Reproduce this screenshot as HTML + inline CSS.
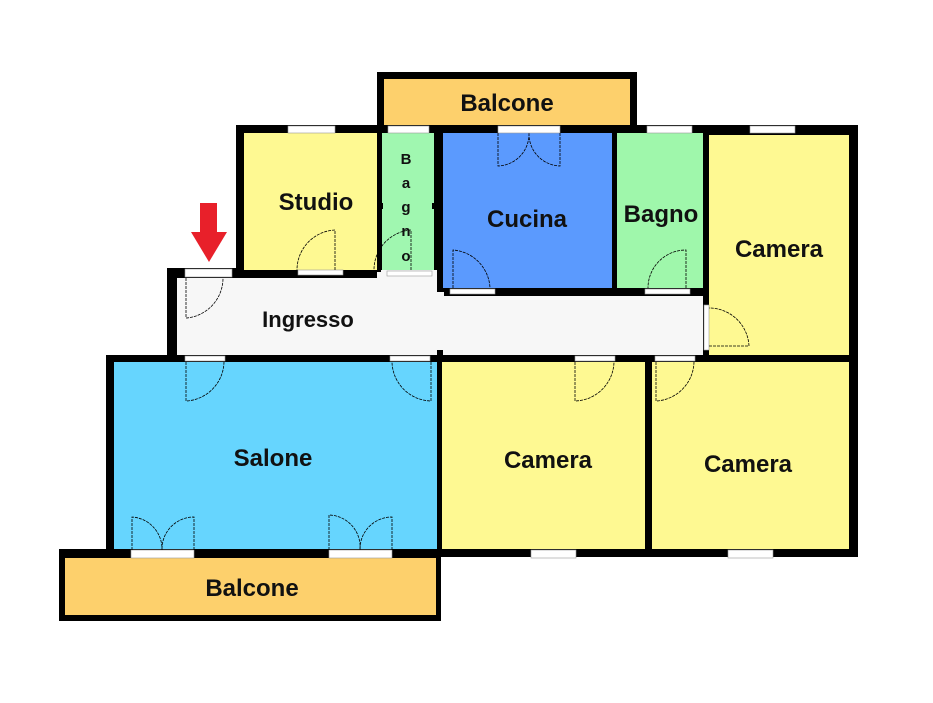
<!DOCTYPE html>
<html><head><meta charset="utf-8"><style>html,body{margin:0;padding:0;background:#fff}svg{display:block}text{font-family:"Liberation Sans","DejaVu Sans",sans-serif;font-weight:bold;fill:#111}</style></head><body>
<svg width="933" height="703" viewBox="0 0 933 703" xmlns="http://www.w3.org/2000/svg">
<rect width="933" height="703" fill="#fff"/>
<rect x="377" y="72" width="260" height="60" fill="#000"/>
<rect x="384" y="79" width="246" height="48" fill="#fdd06c"/>
<rect x="236" y="125" width="622" height="153" fill="#000"/>
<rect x="167" y="268" width="691" height="100" fill="#000"/>
<rect x="106" y="355" width="752" height="202" fill="#000"/>
<rect x="59" y="549" width="382" height="72" fill="#000"/>
<rect x="65" y="558" width="371" height="57" fill="#fdd06c"/>
<rect x="244" y="133" width="133" height="137" fill="#fef992"/>
<rect x="382" y="133" width="52" height="139" fill="#a0f7b0"/>
<rect x="443" y="133" width="169" height="155" fill="#5b9afe"/>
<rect x="617" y="133" width="86" height="155" fill="#9ff7ab"/>
<rect x="709" y="135" width="140" height="220" fill="#fef992"/>
<rect x="177" y="278" width="260" height="77" fill="#f7f7f7"/>
<rect x="443" y="296" width="260" height="59" fill="#f7f7f7"/>
<rect x="436" y="292" width="8" height="58" fill="#f7f7f7"/>
<rect x="377" y="270" width="60" height="10" fill="#f7f7f7"/>
<rect x="114" y="362" width="323" height="187" fill="#66d5fe"/>
<rect x="442" y="362" width="203" height="187" fill="#fef992"/>
<rect x="652" y="362" width="197" height="187" fill="#fef992"/>
<rect x="377" y="266" width="4" height="6" fill="#000"/>
<rect x="437" y="278" width="6" height="14" fill="#000"/>
<rect x="437" y="350" width="6" height="12" fill="#000"/>
<g fill="#fff" stroke="#999" stroke-width="0.6">
<rect x="288" y="126" width="47" height="7"/>
<rect x="388" y="126" width="41" height="7"/>
<rect x="498" y="126" width="62" height="7"/>
<rect x="647" y="126" width="45" height="7"/>
<rect x="750" y="126" width="45" height="7"/>
<rect x="185" y="269" width="47" height="8"/>
<rect x="298" y="270" width="45" height="5"/>
<rect x="387" y="271" width="45" height="5"/>
<rect x="450" y="289" width="45" height="5"/>
<rect x="645" y="289" width="45" height="5"/>
<rect x="704" y="305" width="5" height="45"/>
<rect x="185" y="356" width="40" height="5"/>
<rect x="390" y="356" width="40" height="5"/>
<rect x="575" y="356" width="40" height="5"/>
<rect x="655" y="356" width="40" height="5"/>
<rect x="131" y="550" width="63" height="8"/>
<rect x="329" y="550" width="63" height="8"/>
<rect x="531" y="550" width="45" height="8"/>
<rect x="728" y="550" width="45" height="8"/>
</g>
<g fill="none" stroke="#000" stroke-width="0.8" stroke-dasharray="3 1">
<path d="M335 270 V230 A40 40 0 0 0 297 270"/>
<path d="M411 270 V230 A40 40 0 0 0 374 270"/>
<path d="M453 288 V250 A40 40 0 0 1 490 288"/>
<path d="M686 288 V250 A38 38 0 0 0 648 288"/>
<path d="M709 346 H749 A40 40 0 0 0 709 308"/>
<path d="M186 278 V318 A40 40 0 0 0 223 278"/>
<path d="M498 133 V166 A32 32 0 0 0 529 133 M560 133 V166 A32 32 0 0 1 529 133"/>
<path d="M186 362 V401 A40 40 0 0 0 224 362"/>
<path d="M431 362 V401 A40 40 0 0 1 392 362"/>
<path d="M575 362 V401 A40 40 0 0 0 614 362"/>
<path d="M656 362 V401 A40 40 0 0 0 694 362"/>
<path d="M132 550 V517 A32 32 0 0 1 162 550 M194 550 V517 A32 32 0 0 0 162 550"/>
<path d="M329 550 V515 A32 32 0 0 1 360 550 M392 550 V517 A32 32 0 0 0 360 550"/>
</g>
<rect x="377" y="203" width="6" height="6" fill="#000"/>
<rect x="432" y="203" width="6" height="6" fill="#000"/>
<rect x="200" y="203" width="17" height="30" fill="#e8202a"/>
<polygon points="191,232 227,232 209,262" fill="#e8202a"/>
<text x="507" y="111" font-size="24" text-anchor="middle">Balcone</text>
<text x="316" y="210" font-size="24" text-anchor="middle">Studio</text>
<text x="527" y="227" font-size="24" text-anchor="middle">Cucina</text>
<text x="661" y="222" font-size="24" text-anchor="middle">Bagno</text>
<text x="779" y="257" font-size="24" text-anchor="middle">Camera</text>
<text x="308" y="327" font-size="22" text-anchor="middle">Ingresso</text>
<text x="273" y="466" font-size="24" text-anchor="middle">Salone</text>
<text x="548" y="468" font-size="24" text-anchor="middle">Camera</text>
<text x="748" y="472" font-size="24" text-anchor="middle">Camera</text>
<text x="252" y="596" font-size="24" text-anchor="middle">Balcone</text>
<g font-size="15" text-anchor="middle">
<text x="406" y="164">B</text>
<text x="406" y="188">a</text>
<text x="406" y="212">g</text>
<text x="406" y="236">n</text>
<text x="406" y="261">o</text>
</g>
</svg>
</body></html>
